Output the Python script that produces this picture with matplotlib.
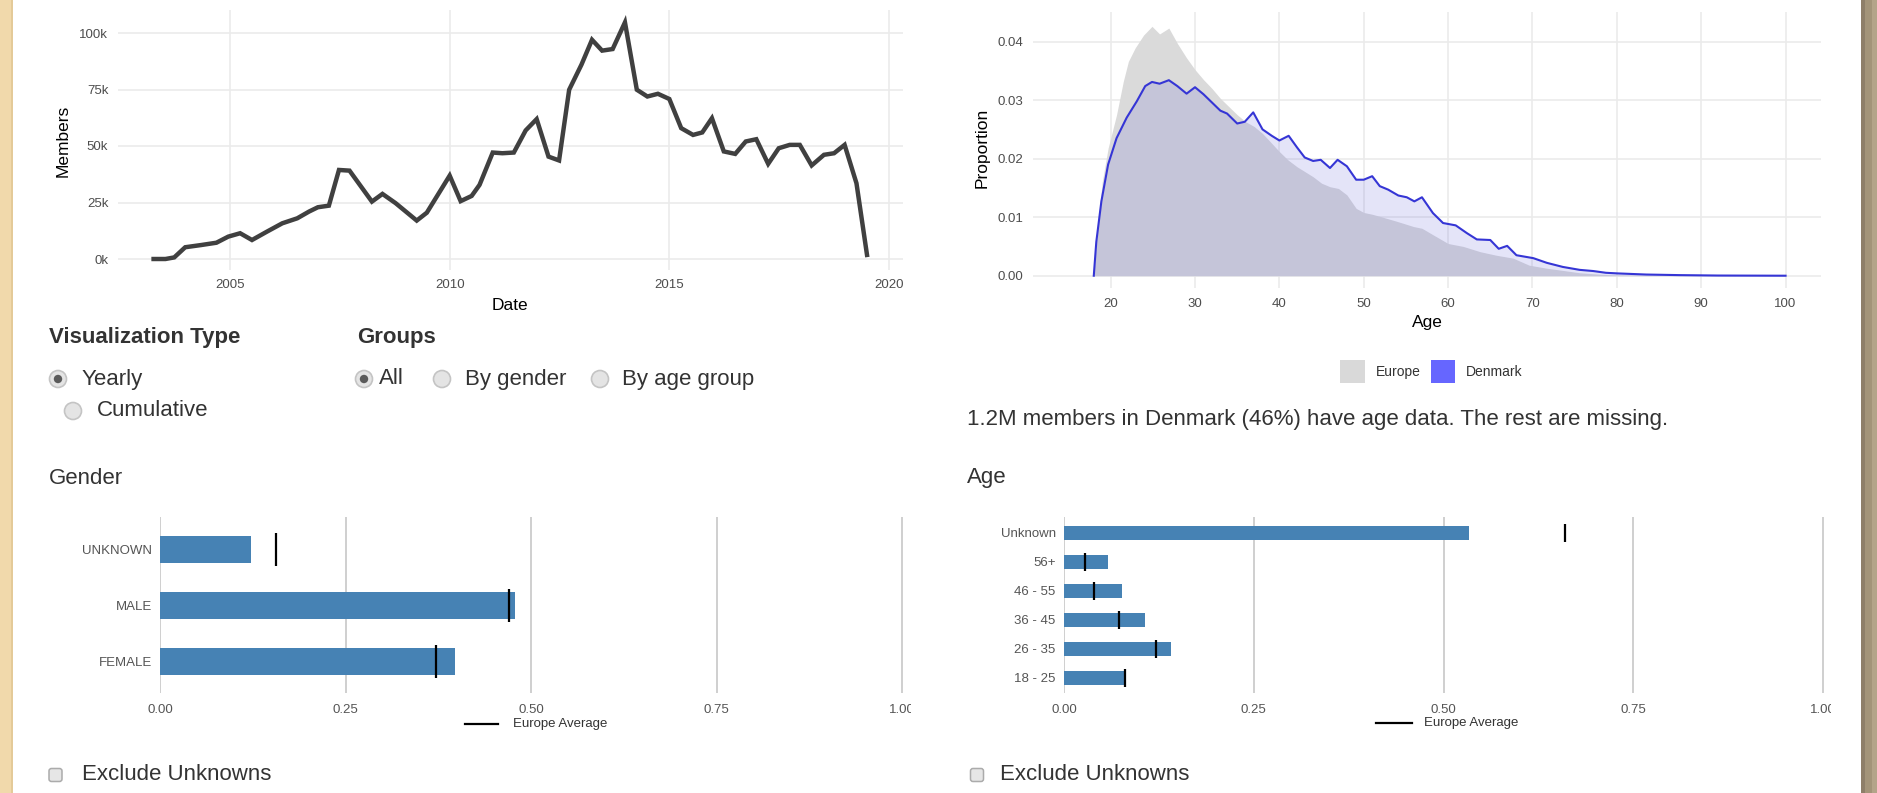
import matplotlib
matplotlib.use("Agg")
import matplotlib.pyplot as plt
from matplotlib.patches import Rectangle, Circle, FancyBboxPatch
from matplotlib.transforms import Bbox, TransformedBbox

W, H = 1877, 793

# --- members per quarter (thousands) ---
dates = [2003.26, 2003.53, 2003.73, 2003.98, 2004.35, 2004.69, 2004.96, 2005.23, 2005.50,
         2005.84, 2006.19, 2006.53, 2006.80, 2007.00, 2007.25, 2007.48, 2007.72, 2008.23,
         2008.47, 2008.77, 2009.25, 2009.48, 2010.00, 2010.25, 2010.50, 2010.68, 2010.98,
         2011.20, 2011.46, 2011.73, 2011.98, 2012.25, 2012.49, 2012.72, 2013.00, 2013.24,
         2013.47, 2013.71, 2013.99, 2014.26, 2014.50, 2014.74, 2015.00, 2015.27, 2015.54,
         2015.75, 2015.97, 2016.24, 2016.50, 2016.74, 2016.98, 2017.25, 2017.49, 2017.74,
         2017.97, 2018.24, 2018.52, 2018.75, 2018.99, 2019.26, 2019.50]
members_k = [0, 0, 0.7, 5.2, 6.2, 7.2, 9.9, 11.4, 8.4,
             12.1, 15.8, 18.0, 21.0, 22.9, 23.6, 39.4, 39.1, 25.4,
             28.8, 24.7, 17.0, 20.5, 36.9, 25.6, 27.9, 32.8, 47.1,
             46.8, 47.1, 56.9, 61.9, 45.3, 43.6, 74.9, 86.0, 97.0,
             92.2, 92.9, 104.7, 74.9, 71.9, 73.1, 70.8, 57.9, 54.9,
             56.0, 62.3, 47.6, 46.5, 52.0, 53.0, 42.1, 49.0, 50.5,
             50.5, 41.4, 46.1, 46.8, 50.5, 33.5, 1.8]

# --- age distribution ---
dk_age = [18, 18.3, 18.9, 19.7, 20.7, 21.9, 23.1, 24.1, 24.9, 25.8, 26.9, 27.9, 29, 30, 31,
          32, 33, 33.8, 35, 35.9, 36.9, 38, 39.1, 40, 41.1, 42.1, 43, 44, 44.9, 46, 46.9, 48,
          49.1, 50, 51, 51.9, 52.9, 54.1, 55.1, 56, 56.9, 58.2, 59.4, 60.9, 62.2, 63.4, 65,
          66, 67, 68.1, 70.1, 71.7, 73.6, 75.6, 77.2, 78.7, 80, 83.5, 87.5, 92, 100]
dk_prop = [0, 0.0058, 0.0127, 0.0190, 0.0235, 0.0270, 0.0298, 0.0324, 0.0331, 0.0328,
           0.0334, 0.0324, 0.0311, 0.0322, 0.0310, 0.0296, 0.0282, 0.0277, 0.0260, 0.0263,
           0.0279, 0.0250, 0.0239, 0.0231, 0.0239, 0.0219, 0.0202, 0.0196, 0.0198, 0.0184,
           0.0198, 0.0187, 0.0164, 0.0164, 0.0170, 0.0153, 0.0147, 0.0137, 0.0134, 0.0127,
           0.0134, 0.0107, 0.0090, 0.0086, 0.0073, 0.0062, 0.0061, 0.0046, 0.0051, 0.0035,
           0.0030, 0.0022, 0.0015, 0.0010, 0.0008, 0.0005, 0.0004, 0.0002, 0.0001, 0.00003, 0.0]
eu_age = [18, 18.5, 19, 19.7, 20.7, 21.5, 22.1, 22.9, 23.9, 24.9, 25.8, 26.9, 27.9, 29, 30,
          31, 32, 33, 34, 35, 36, 37, 38, 39.1, 40, 41, 42.1, 43, 44, 45, 46, 47, 48, 49.1,
          50, 51, 52, 53.9, 55.9, 56.9, 58.2, 60, 61.8, 63.8, 65.7, 67.7, 69.6, 71.6, 73.6,
          75.6, 77.5, 80, 85, 100]
eu_prop = [0, 0.009, 0.016, 0.0218, 0.0275, 0.0332, 0.0366, 0.0389, 0.0411, 0.0426,
           0.0413, 0.0423, 0.0397, 0.0372, 0.0352, 0.0335, 0.0320, 0.0303, 0.0289, 0.0275,
           0.0263, 0.0255, 0.0243, 0.0226, 0.0212, 0.0198, 0.0186, 0.0178, 0.0169, 0.0158,
           0.0152, 0.0149, 0.0138, 0.0115, 0.0108, 0.0105, 0.0101, 0.0093, 0.0084, 0.0081,
           0.0070, 0.0055, 0.0050, 0.0041, 0.0035, 0.0030, 0.0018, 0.0013, 0.0009, 0.0005,
           0.0003, 0.0001, 0.00002, 0]

# --- gender / age group shares ---
gender_cats = ["FEMALE", "MALE", "UNKNOWN"]
gender_dk = [0.398, 0.478, 0.123]
gender_eu = [0.372, 0.470, 0.157]

age_cats = ["18 - 25", "26 - 35", "36 - 45", "46 - 55", "56+", "Unknown"]
age_dk = [0.080, 0.141, 0.107, 0.076, 0.058, 0.534]
age_eu = [0.080, 0.121, 0.073, 0.039, 0.028, 0.660]

share_ticks = [0, 0.25, 0.5, 0.75, 1.0]
share_labels = ["0.00", "0.25", "0.50", "0.75", "1.00"]

plt.rcParams['font.family'] = ['Liberation Sans', 'DejaVu Sans']
TICK = '#4D4D4D'
TXT = '#333333'
UI = 16

fig = plt.figure(figsize=(W / 100, H / 100), dpi=100)
fig.patch.set_facecolor('white')


def px_axes(x0, y0, x1, y1):
    return fig.add_axes([x0 / W, 1 - y1 / H, (x1 - x0) / W, (y1 - y0) / H])


def clean(ax):
    for s in ax.spines.values():
        s.set_visible(False)
    ax.tick_params(length=0)


# ---------- top-left: members over time ----------
ax1 = px_axes(118, 10.4, 902.6, 270.3)
clean(ax1)
ax1.plot(dates, members_k, color='#404040', lw=3.2, solid_joinstyle='miter')
ax1.set_xlim(2002.45, 2020.31)
ax1.set_ylim(-5, 110)
ax1.set_xticks([2005, 2010, 2015, 2020])
ax1.set_yticks([0, 25, 50, 75, 100])
ax1.set_yticklabels(['0k', '25k', '50k', '75k', '100k'])
ax1.grid(True, color='#EBEBEB', lw=1.2)
ax1.set_axisbelow(True)
ax1.tick_params(axis='both', labelsize=9.5, labelcolor=TICK)
ax1.tick_params(axis='y', pad=7)
ax1.tick_params(axis='x', pad=6)

# ---------- top-right: age density ----------
ax2 = px_axes(1032.7, 11.7, 1821, 288.3)
clean(ax2)
ax2.fill_between(eu_age, eu_prop, 0, color='#DADADA', lw=0)
ax2.fill_between(dk_age, dk_prop, 0, color=(0.35, 0.35, 0.85), alpha=0.16, lw=0)
ax2.plot(dk_age, dk_prop, color='#3535D5', lw=1.5)
ax2.set_xlim(10.76, 104.2)
ax2.set_ylim(-0.00215, 0.0451)
ax2.set_xticks([20, 30, 40, 50, 60, 70, 80, 90, 100])
ax2.set_yticks([0, 0.01, 0.02, 0.03, 0.04])
ax2.set_yticklabels(['0.00', '0.01', '0.02', '0.03', '0.04'])
ax2.grid(True, color='#EBEBEB', lw=1.2)
ax2.set_axisbelow(True)
ax2.tick_params(axis='both', labelsize=9.5, labelcolor=TICK)
ax2.tick_params(axis='y', pad=7)
ax2.tick_params(axis='x', pad=7)

# ---------- bottom bar charts ----------
# pixels per unit share for each panel (0 -> 1 span)
unit = {160: 742.0, 1064: 759.0}


def bar_panel(x0, x1, cats, dk, eu, ylim, bh):
    ax = px_axes(x0, 517, x1, 693)
    clean(ax)
    pos = list(range(len(cats)))
    ax.barh(pos, dk, height=bh, color='#4682B4', zorder=2)
    ax.vlines(eu, [p - bh * 0.62 for p in pos], [p + bh * 0.62 for p in pos],
              color='black', lw=1.6, zorder=3)
    ax.set_xlim(0, (x1 - x0) / unit[x0])
    ax.set_ylim(*ylim)
    ax.set_xticks(share_ticks)
    ax.set_xticklabels(share_labels)
    ax.set_yticks(pos)
    ax.set_yticklabels(cats)
    ax.grid(True, axis='x', color='#CCCCCC', lw=1.3, zorder=0)
    ax.set_axisbelow(True)
    ax.tick_params(axis='both', labelsize=9.5, labelcolor='#555555')
    ax.tick_params(axis='x', pad=8)
    ax.tick_params(axis='y', pad=6)
    # the widget crops the last tick label
    cb = TransformedBbox(Bbox([[0, 0], [x1 / W, 1]]), fig.transFigure)
    for lab in ax.get_xticklabels():
        lab.set_clip_on(True)
        lab.set_clip_box(cb)
    return ax


bar_panel(160, 911, gender_cats, gender_dk, gender_eu, (-0.57, 2.58), 0.48)
bar_panel(1064, 1831, age_cats, age_dk, age_eu, (-0.52, 5.55), 0.48)

# ---------- overlay: page furniture, widgets, labels ----------
ov = fig.add_axes([0, 0, 1, 1])
ov.set_xlim(0, W)
ov.set_ylim(H, 0)
ov.axis('off')

# page borders
ov.add_patch(Rectangle((0, 0), 12, H, color='#F1D9AB', lw=0))
ov.add_patch(Rectangle((11.5, 0), 1.5, H, color='#E4CA98', lw=0))
ov.add_patch(Rectangle((1861, 0), 4, H, color='#8E7F69', lw=0))
ov.add_patch(Rectangle((1865, 0), 7, H, color='#A39479', lw=0))
ov.add_patch(Rectangle((1872, 0), 5, H, color='#B4A489', lw=0))

# axis titles
ov.text(510, 305, 'Date', ha='center', va='center', fontsize=12.5, color='black')
ov.text(63, 141, 'Members', ha='center', va='center', rotation=90, fontsize=12.5, color='black')
ov.text(1427, 322, 'Age', ha='center', va='center', fontsize=12.5, color='black')
ov.text(982, 148, 'Proportion', ha='center', va='center', rotation=90, fontsize=12.5, color='black')

# density legend
ov.add_patch(Rectangle((1340.5, 360), 25, 23, color='#D9D9D9', lw=0))
ov.text(1376, 372, 'Europe', ha='left', va='center', fontsize=10, color=TXT)
ov.add_patch(Rectangle((1431.5, 360), 24, 23, color='#6666FF', lw=0))
ov.text(1466, 372, 'Denmark', ha='left', va='center', fontsize=10, color=TXT)

# widgets
ov.text(49, 338, 'Visualization Type', ha='left', va='center', fontsize=UI,
        fontweight='bold', color=TXT)
ov.text(357, 338, 'Groups', ha='left', va='center', fontsize=UI, fontweight='bold', color=TXT)


def radio(x, y, label, tx, selected=False):
    ov.add_patch(Circle((x, y), 8.5, facecolor='#E4E4E4', edgecolor='#C4C4C4', lw=1.2))
    if selected:
        ov.add_patch(Circle((x, y), 4.2, facecolor='#5A5A5A', lw=0))
    ov.text(tx, y, label, ha='left', va='center', fontsize=UI, color=TXT)


radio(58, 379, 'Yearly', 82, True)
radio(73, 411, 'Cumulative', 97)
radio(364, 379, 'All', 379, True)
radio(442, 379, 'By gender', 465)
radio(600, 379, 'By age group', 622)

ov.text(967, 419, '1.2M members in Denmark (46%) have age data. The rest are missing.',
        ha='left', va='center', fontsize=UI, color=TXT)
ov.text(49, 478, 'Gender', ha='left', va='center', fontsize=UI, color=TXT)
ov.text(967, 478, 'Age', ha='left', va='center', fontsize=UI, color=TXT)

# "Europe Average" legends
ov.plot([465, 498], [724, 724], color='black', lw=1.6)
ov.text(513, 724, 'Europe Average', ha='left', va='center', fontsize=9.5, color=TXT)
ov.plot([1376, 1412], [723, 723], color='black', lw=1.6)
ov.text(1424, 723, 'Europe Average', ha='left', va='center', fontsize=9.5, color=TXT)

# checkboxes
for cx, tx in [(55.5, 82), (977, 1000)]:
    ov.add_patch(FancyBboxPatch((cx - 6.5, 768.5), 13, 13,
                                boxstyle='round,pad=0,rounding_size=2.5',
                                facecolor='#E6E6E6', edgecolor='#ABABAB', lw=1.1))
    ov.text(tx, 775, 'Exclude Unknowns', ha='left', va='center', fontsize=UI, color=TXT)

fig.savefig('out.png', dpi=100)
